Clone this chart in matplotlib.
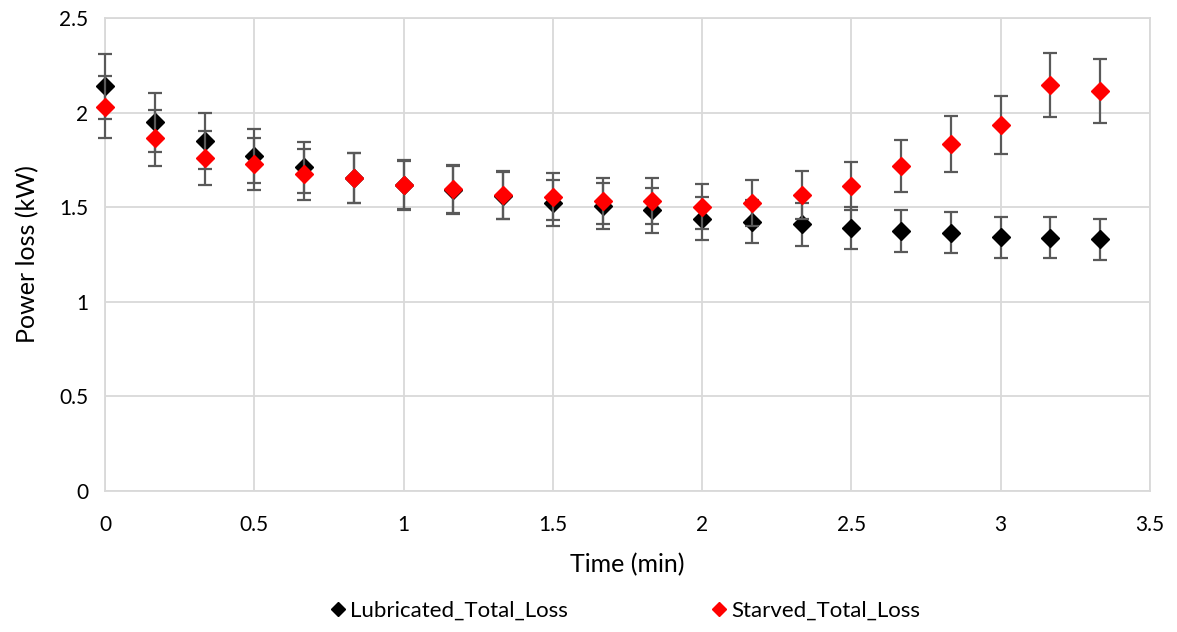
import numpy as np
import matplotlib.pyplot as plt

# time points (min)
time = [0, 1/6, 2/6, 3/6, 4/6, 5/6, 1, 7/6, 8/6, 9/6, 10/6, 11/6, 2,
        13/6, 14/6, 15/6, 16/6, 17/6, 3, 19/6, 20/6]

lubricated = [2.14, 1.95, 1.85, 1.77, 1.71, 1.655, 1.62, 1.59, 1.56, 1.52, 1.506,
              1.485, 1.44, 1.423, 1.41, 1.388, 1.374, 1.365, 1.341, 1.339, 1.330]
starved = [2.03, 1.865, 1.76, 1.728, 1.674, 1.653, 1.617, 1.596, 1.565, 1.556, 1.533,
           1.534, 1.503, 1.52, 1.565, 1.612, 1.718, 1.834, 1.934, 2.146, 2.116]

# percentage error bars
err_pct = 8

plt.rcParams['font.family'] = ['Lato', 'DejaVu Sans']

fig = plt.figure(figsize=(11.77, 6.32), dpi=100)
ax = fig.add_axes([0.0892, 0.2231, 0.977 - 0.0892, 0.9715 - 0.2231])

lub = np.array(lubricated)
sta = np.array(starved)

eb1 = ax.errorbar(time, lub, yerr=lub * err_pct / 100, fmt='D', color='black',
                  ms=9, ecolor='#595959', elinewidth=1.6, capsize=5, capthick=1.6,
                  label='Lubricated_Total_Loss', zorder=3)
eb2 = ax.errorbar(time, sta, yerr=sta * err_pct / 100, fmt='D', color='#ff0000',
                  ms=9, ecolor='#595959', elinewidth=1.6, capsize=5, capthick=1.6,
                  label='Starved_Total_Loss', zorder=4)
for eb in (eb1, eb2):
    for a in eb.get_children():
        a.set_clip_on(False)

ax.set_xlim(0, 3.5)
ax.set_ylim(0, 2.5)
ax.set_xticks(np.arange(0, 3.51, 0.5))
ax.set_yticks(np.arange(0, 2.51, 0.5))
ax.set_xticklabels(['0', '0.5', '1', '1.5', '2', '2.5', '3', '3.5'])
ax.set_yticklabels(['0', '0.5', '1', '1.5', '2', '2.5'])
ax.grid(True, color='#d9d9d9', linewidth=1.3)
ax.set_axisbelow(True)
for s in ax.spines.values():
    s.set_color('#d9d9d9')
    s.set_linewidth(1.3)
ax.tick_params(axis='x', length=0, labelsize=15, pad=17)
ax.tick_params(axis='y', length=0, labelsize=15, pad=12)
ax.set_xlabel('Time (min)', fontsize=18, labelpad=13)
ax.set_ylabel('Power loss (kW)', fontsize=18, labelpad=14)

handles, labels = ax.get_legend_handles_labels()
handles = [h[0] for h in handles]
fig.legend(handles, labels, loc='center', bbox_to_anchor=(0.53, 0.033), ncol=2,
           frameon=False, fontsize=16, columnspacing=6.3, handletextpad=0.05,
           handlelength=1.0, markerscale=0.8)

fig.savefig('out.png', dpi=100)
